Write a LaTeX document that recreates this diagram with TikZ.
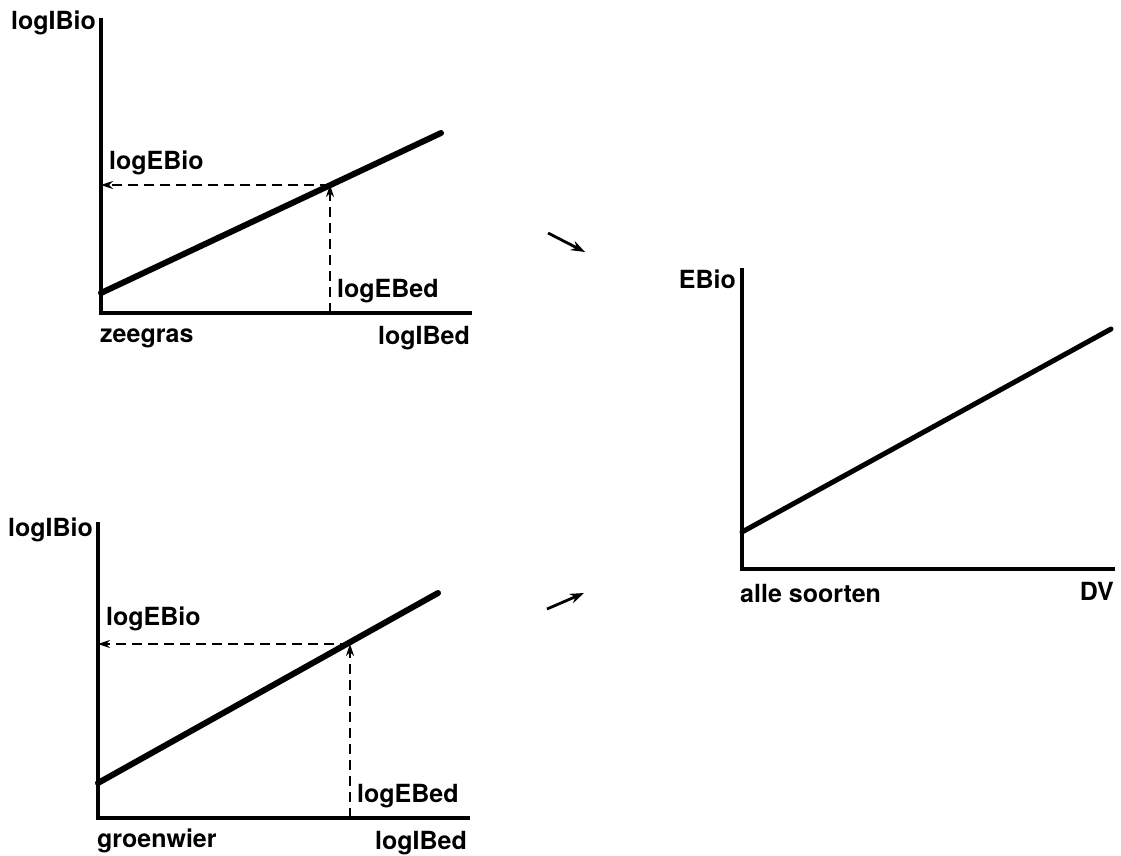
\documentclass[tikz,border=0pt]{standalone}
\usepackage{fontspec}
\setmainfont{TeX Gyre Heros}
\usetikzlibrary{arrows.meta}
\begin{document}
\begin{tikzpicture}[x=1pt,y=-1pt,
  axis/.style={line width=3.4pt,line cap=rect},
  curve/.style={line width=6pt,line cap=round},
  guide/.style={line width=2.2pt,dash pattern=on 10pt off 6pt},
  lbl/.style={font=\bfseries\fontsize{25}{28}\selectfont,inner sep=0pt},
  tip/.style={-{Stealth[length=12pt,width=8pt]}},
  bigtip/.style={-{Stealth[length=14pt,width=10pt]},line width=2.8pt}]
\useasboundingbox (0,0) rectangle (1121,856);
% ---- top chart (zeegras)
\coordinate (a0) at (101,313);
\coordinate (aY) at (101,20);
\coordinate (aX) at (470,313);
\draw[axis] (aY) -- (a0) -- (aX);
\coordinate (aL0) at (101,293);
\coordinate (aL1) at (441,133);
\draw[curve] (aL0) -- (aL1);
\coordinate (aP) at (330,185);
\coordinate (aPx) at (330,313);
\coordinate (aPy) at (101,185);
\draw[guide,tip] (aPx) -- (aP);
\draw[guide,tip] (aP) -- (aPy);
\node[lbl,anchor=east] (aYl) at (96,23) {logIBio};
\node[lbl,anchor=west] (aEBio) at (109,163) {logEBio};
\node[lbl,anchor=west] (aEBed) at (337,291) {logEBed};
\node[lbl,anchor=west] (aName) at (100,338) {zeegras};
\node[lbl,anchor=east] (aXl) at (470,338) {logIBed};
% ---- bottom chart (groenwier)
\coordinate (b0) at (98,818);
\coordinate (bY) at (98,524);
\coordinate (bX) at (468,818);
\draw[axis] (bY) -- (b0) -- (bX);
\coordinate (bL0) at (98,783);
\coordinate (bL1) at (438,593);
\draw[curve] (bL0) -- (bL1);
\coordinate (bP) at (350,644);
\coordinate (bPx) at (350,818);
\coordinate (bPy) at (98,644);
\draw[guide,tip] (bPx) -- (bP);
\draw[guide,tip] (bP) -- (bPy);
\node[lbl,anchor=east] (bYl) at (93,530) {logIBio};
\node[lbl,anchor=west] (bEBio) at (106,619) {logEBio};
\node[lbl,anchor=west] (bEBed) at (357,796) {logEBed};
\node[lbl,anchor=west] (bName) at (97,841) {groenwier};
\node[lbl,anchor=east] (bXl) at (467,843) {logIBed};
% ---- right chart (alle soorten)
\coordinate (c0) at (742,569);
\coordinate (cY) at (742,270);
\coordinate (cX) at (1113,569);
\draw[axis] (cY) -- (c0) -- (cX);
\coordinate (cL0) at (742,532);
\coordinate (cL1) at (1111,329);
\draw[curve,line width=5pt] (cL0) -- (cL1);
\node[lbl,anchor=east] (cYl) at (736,279) {EBio};
\node[lbl,anchor=west] (cName) at (740,593) {alle soorten};
\node[lbl,anchor=east] (cXl) at (1114,591) {DV};
% ---- arrows between charts
\coordinate (r1a) at (548,233);
\coordinate (r1b) at (585,252);
\draw[bigtip] (r1a) -- (r1b);
\coordinate (r2a) at (547,609);
\coordinate (r2b) at (584,593);
\draw[bigtip] (r2a) -- (r2b);
\end{tikzpicture}
\end{document}
